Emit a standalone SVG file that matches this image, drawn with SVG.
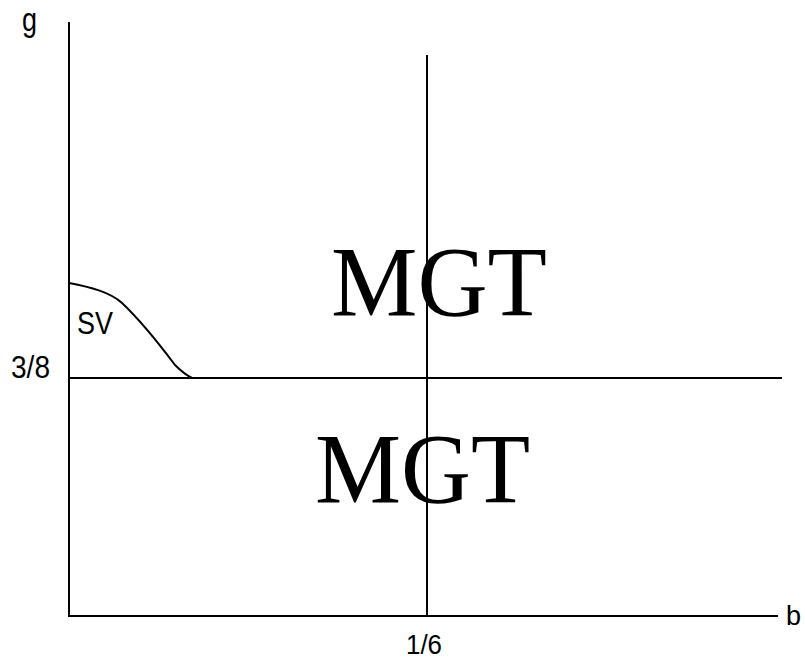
<svg xmlns="http://www.w3.org/2000/svg" width="805" height="662" viewBox="0 0 805 662">
<style>
.ln{stroke:#000;stroke-width:2;fill:none}
.lab{font-family:"Liberation Sans",Arial,sans-serif;fill:#000}
.big{font-family:"Liberation Serif","Times New Roman",serif;font-size:99px;fill:#000}
</style>
<rect width="805" height="662" fill="#fff"/>
<g id="connectors">
<line class="ln" x1="69" y1="22" x2="69" y2="617"/>
<line class="ln" x1="68" y1="616" x2="778" y2="616"/>
<line class="ln" x1="69" y1="378" x2="782" y2="378"/>
<line class="ln" x1="427" y1="55" x2="427" y2="616"/>
<path class="ln" d="M69,283 C90,287 110,292 122,303 C140,320 160,345 175,365 C182,372 188,376 192,378"/>
</g>
<g id="axis-g"><text class="lab" x="22" y="31" font-size="33" textLength="15" lengthAdjust="spacingAndGlyphs">g</text></g>
<g id="axis-b"><text class="lab" x="786" y="625" font-size="27">b</text></g>
<g id="tick-38"><text class="lab" x="11" y="378" font-size="32" textLength="39" lengthAdjust="spacingAndGlyphs">3/8</text></g>
<g id="tick-16"><text class="lab" x="406" y="654" font-size="27" textLength="36" lengthAdjust="spacingAndGlyphs">1/6</text></g>
<g id="region-sv"><text class="lab" x="77" y="334" font-size="31" textLength="36" lengthAdjust="spacingAndGlyphs">SV</text></g>
<g id="region-mgt-upper"><text class="big" x="331" y="315" textLength="216" lengthAdjust="spacingAndGlyphs">MGT</text></g>
<g id="region-mgt-lower"><text class="big" x="315" y="502" textLength="215" lengthAdjust="spacingAndGlyphs">MGT</text></g>
</svg>
